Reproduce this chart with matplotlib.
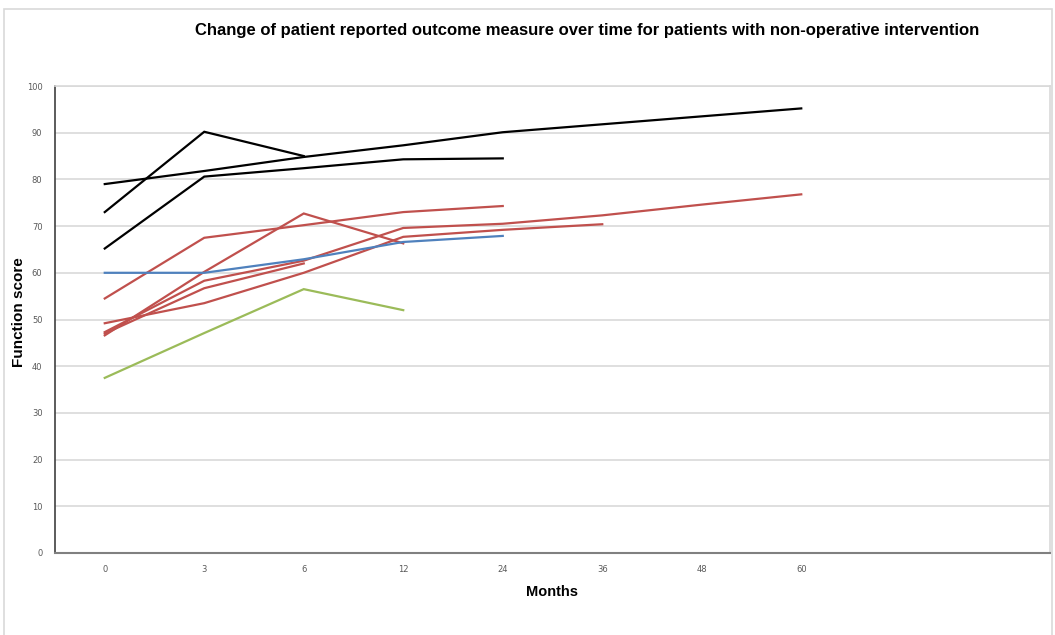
import numpy as np
import matplotlib.pyplot as plt
from matplotlib.patches import Rectangle

nan = np.nan

months = ["0", "3", "6", "12", "24", "36", "48", "60"]

# Function scores per patient at each follow-up (NaN = no visit)
black_1 = [79.0, 81.8, 84.8, 87.3, 90.1, 91.8, 93.5, 95.2]
black_2 = [73.0, 90.2, 85.0, nan, nan, nan, nan, nan]
black_3 = [65.2, 80.6, 82.4, 84.3, 84.5, nan, nan, nan]
red_1 = [54.5, 67.5, 70.2, 73.0, 74.3, nan, nan, nan]
red_2 = [46.6, 60.2, 72.7, 66.3, nan, nan, nan, nan]
red_3 = [47.3, 58.3, 62.6, 69.6, 70.5, 72.3, 74.6, 76.8]
red_4 = [49.2, 53.5, 60.0, 67.7, 69.2, 70.4, nan, nan]
red_5 = [47.0, 56.7, 62.0, nan, nan, nan, nan, nan]
blue_1 = [60.0, 60.0, 62.9, 66.6, 67.9, nan, nan, nan]
green_1 = [37.5, 47.1, 56.5, 52.0, nan, nan, nan, nan]

BLACK = "#000000"
RED = "#C0504D"
BLUE = "#4F81BD"
GREEN = "#9BBB59"

series = [
    (black_1, BLACK), (black_2, BLACK), (black_3, BLACK),
    (red_1, RED), (red_2, RED), (red_3, RED), (red_4, RED), (red_5, RED),
    (blue_1, BLUE), (green_1, GREEN),
]

fig = plt.figure(figsize=(10.55, 6.35), dpi=100)
W, H = 1055, 635
ax = fig.add_axes([55 / W, 1 - 553 / H, (1050 - 55) / W, (553 - 86) / H])

x = np.arange(len(months))
for values, color in series:
    ax.plot(x, values, color=color, lw=1.6, solid_joinstyle="miter", zorder=3)

ax.set_xlim(-0.5, 9.5)
ax.set_ylim(0, 100)
ax.set_yticks(np.arange(0, 101, 10))
ax.set_xticks(x)
ax.set_xticklabels(months)
ax.tick_params(axis="both", length=0, labelsize=6, labelcolor="#595959")
ax.tick_params(axis="x", pad=9)
ax.tick_params(axis="y", pad=9)
ax.yaxis.grid(True, color="#D9D9D9", lw=1.2, zorder=0)
ax.set_axisbelow(True)
for side in ["top", "right"]:
    ax.spines[side].set_color("#D9D9D9")
    ax.spines[side].set_linewidth(1.2)
ax.spines["left"].set_color("#404040")
ax.spines["bottom"].set_color("#808080")
ax.spines["left"].set_linewidth(1.2)
ax.spines["bottom"].set_linewidth(1.5)

label_font = ["Liberation Sans", "DejaVu Sans"]
fig.text(587 / W, 1 - 31 / H,
         "Change of patient reported outcome measure over time for patients with non-operative intervention",
         ha="center", va="center", fontsize=12, fontweight="bold", family=label_font)
fig.text(19 / W, 1 - 312 / H, "Function score", rotation=90, ha="center", va="center",
         fontsize=11, fontweight="bold", family=label_font)
fig.text(552 / W, 1 - 592 / H, "Months", ha="center", va="center",
         fontsize=10.5, fontweight="bold", family=label_font)

# light frame around the chart area
fig.patches.append(Rectangle((4 / W, -0.1), (1052 - 4) / W, 1.1 - 9 / H,
                             transform=fig.transFigure, fill=False,
                             edgecolor="#D9D9D9", lw=1.2))

fig.savefig("out.png", dpi=100, facecolor="white")
